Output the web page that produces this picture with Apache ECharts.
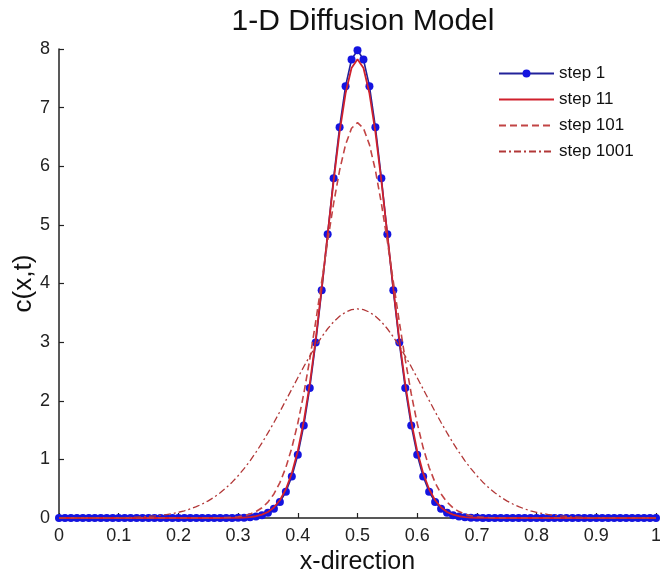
<!DOCTYPE html>
<html>
<head>
<meta charset="utf-8">
<script src="https://cdn.jsdelivr.net/npm/echarts@6/dist/echarts.min.js"></script>
<style>html,body{margin:0;padding:0;background:#fff;}#chart{width:660px;height:574px;}</style>
</head>
<body>
<div id="chart"></div>
<script>
var xs = [0,0.01,0.02,0.03,0.04,0.05,0.06,0.07,0.08,0.09,
0.1,0.11,0.12,0.13,0.14,0.15,0.16,0.17,0.18,0.19,
0.2,0.21,0.22,0.23,0.24,0.25,0.26,0.27,0.28,0.29,
0.3,0.31,0.32,0.33,0.34,0.35,0.36,0.37,0.38,0.39,
0.4,0.41,0.42,0.43,0.44,0.45,0.46,0.47,0.48,0.49,
0.5,0.51,0.52,0.53,0.54,0.55,0.56,0.57,0.58,0.59,
0.6,0.61,0.62,0.63,0.64,0.65,0.66,0.67,0.68,0.69,
0.7,0.71,0.72,0.73,0.74,0.75,0.76,0.77,0.78,0.79,
0.8,0.81,0.82,0.83,0.84,0.85,0.86,0.87,0.88,0.89,
0.9,0.91,0.92,0.93,0.94,0.95,0.96,0.97,0.98,0.99,1];

var step1 = [0,0,0,0,0,0,0,0,0,0,0,0,0,0,0,0,0,0,0,0,0,0,0,0,0,0,0,0,0,
0.001,0.003,0.006,0.012,0.025,0.048,0.089,0.158,0.272,0.448,0.709,1.080,1.579,2.218,2.995,3.884,4.839,5.794,6.665,7.366,7.821,7.979,
7.821,7.366,6.665,5.794,4.839,3.884,2.995,2.218,1.579,1.080,0.709,0.448,0.272,0.158,0.089,0.048,0.025,0.012,0.006,0.003,0.001,
0,0,0,0,0,0,0,0,0,0,0,0,0,0,0,0,0,0,0,0,0,0,0,0,0,0,0,0,0];

var step11 = [0,0,0,0,0,0,0,0,0,0,0,0,0,0,0,0,0,0,0,0,0,0,0,0,0,0,0,0,
0.001,0.002,0.004,0.008,0.015,0.030,0.057,0.103,0.180,0.303,0.491,0.764,1.143,1.648,2.285,3.049,3.915,4.838,5.752,6.581,7.245,7.675,7.824,
7.675,7.245,6.581,5.752,4.838,3.915,3.049,2.285,1.648,1.143,0.764,0.491,0.303,0.180,0.103,0.057,0.030,0.015,0.008,0.004,0.002,0.001,
0,0,0,0,0,0,0,0,0,0,0,0,0,0,0,0,0,0,0,0,0,0,0,0,0,0,0,0];

var step101 = [0,0,0,0,0,0,0,0,0,0,0,0,0,0,0,0,0,0,0,0,0,0,0,0,0,
0.001,0.002,0.004,0.007,0.012,0.022,0.039,0.066,0.109,0.174,0.271,0.410,0.603,0.862,1.197,1.616,2.120,2.703,3.349,4.033,4.719,5.366,5.930,6.369,6.648,6.744,
6.648,6.369,5.930,5.366,4.719,4.033,3.349,2.703,2.120,1.616,1.197,0.862,0.603,0.410,0.271,0.174,0.109,0.066,0.039,0.022,0.012,0.007,0.004,0.002,0.001,
0,0,0,0,0,0,0,0,0,0,0,0,0,0,0,0,0,0,0,0,0,0,0,0,0];

var step1001 = [0,0,0,0,0,
0.001,0.001,0.002,0.003,0.004,0.006,0.008,0.011,0.015,0.020,0.027,0.035,0.046,0.059,0.076,0.097,0.123,0.155,0.193,0.239,0.293,0.356,0.430,0.515,0.611,0.720,0.842,0.976,1.123,1.281,1.451,1.629,1.815,2.006,2.199,2.392,2.581,2.762,2.933,3.089,3.228,3.347,3.442,3.511,3.554,3.568,
3.554,3.511,3.442,3.347,3.228,3.089,2.933,2.762,2.581,2.392,2.199,2.006,1.815,1.629,1.451,1.281,1.123,0.976,0.842,0.720,0.611,0.515,0.430,0.356,0.293,0.239,0.193,0.155,0.123,0.097,0.076,0.059,0.046,0.035,0.027,0.020,0.015,0.011,0.008,0.006,0.004,0.003,0.002,0.001,0.001,
0,0,0,0,0];

var seriesNames = ['step 1', 'step 11', 'step 101', 'step 1001'];

function pairs(ys) { return xs.map(function (x, i) { return [x, ys[i]]; }); }

var FONT = '"Liberation Sans", Arial, sans-serif';
var chart = echarts.init(document.getElementById('chart'), null, {renderer: 'canvas'});
chart.setOption({
  animation: false,
  backgroundColor: '#ffffff',
  title: {
    text: '1-D Diffusion Model',
    left: 358, top: 2, textAlign: 'center',
    textStyle: {fontFamily: FONT, fontSize: 30, fontWeight: 'normal', color: '#111'}
  },
  legend: {
    orient: 'vertical', left: 493, top: 60,
    itemWidth: 55, itemHeight: 10, itemGap: 9,
    textStyle: {fontFamily: FONT, fontSize: 17, color: '#111'},
    data: [
      {name: seriesNames[0]},
      {name: seriesNames[1], itemStyle: {opacity: 0}},
      {name: seriesNames[2], itemStyle: {opacity: 0}},
      {name: seriesNames[3], itemStyle: {opacity: 0}}
    ]
  },
  grid: {left: 59, right: 4, top: 49, bottom: 56, containLabel: false, outerBoundsMode: 'none'},
  xAxis: {
    type: 'value', min: 0, max: 1, interval: 0.1,
    name: 'x-direction', nameLocation: 'middle', nameGap: 30,
    nameTextStyle: {fontFamily: FONT, fontSize: 25, color: '#111'},
    axisLine: {lineStyle: {color: '#222', width: 1.5}},
    axisTick: {inside: true, length: 5, lineStyle: {color: '#222', width: 1.2}},
    axisLabel: {fontFamily: FONT, fontSize: 18, color: '#222', margin: 9},
    splitLine: {show: false}
  },
  yAxis: {
    type: 'value', min: 0, max: 8, interval: 1,
    name: 'c(x,t)', nameLocation: 'middle', nameGap: 22, nameRotate: 90,
    nameMoveOverlap: false,
    nameTextStyle: {fontFamily: FONT, fontSize: 26, color: '#111'},
    axisLine: {lineStyle: {color: '#222', width: 1.5}},
    axisTick: {inside: true, length: 5, lineStyle: {color: '#222', width: 1.2}},
    axisLabel: {fontFamily: FONT, fontSize: 18, color: '#222', margin: 9},
    splitLine: {show: false}
  },
  series: [
    {
      name: seriesNames[0], type: 'line', data: pairs(step1),
      symbol: 'circle', symbolSize: 8, showSymbol: true,
      itemStyle: {color: '#1414e0'},
      lineStyle: {color: '#22229a', width: 1.6},
      z: 2
    },
    {
      name: seriesNames[1], type: 'line', data: pairs(step11),
      symbol: 'none',
      itemStyle: {color: '#d0202c'},
      lineStyle: {color: '#d0202c', width: 1.8},
      z: 3
    },
    {
      name: seriesNames[2], type: 'line', data: pairs(step101),
      symbol: 'none',
      itemStyle: {color: '#c24444'},
      lineStyle: {color: '#c24444', width: 1.6, type: [7, 4]},
      z: 3
    },
    {
      name: seriesNames[3], type: 'line', data: pairs(step1001),
      symbol: 'none',
      itemStyle: {color: '#b23838'},
      lineStyle: {color: '#b23838', width: 1.3, type: [7, 3, 2, 3]},
      z: 3
    }
  ]
});
</script>
</body>
</html>
